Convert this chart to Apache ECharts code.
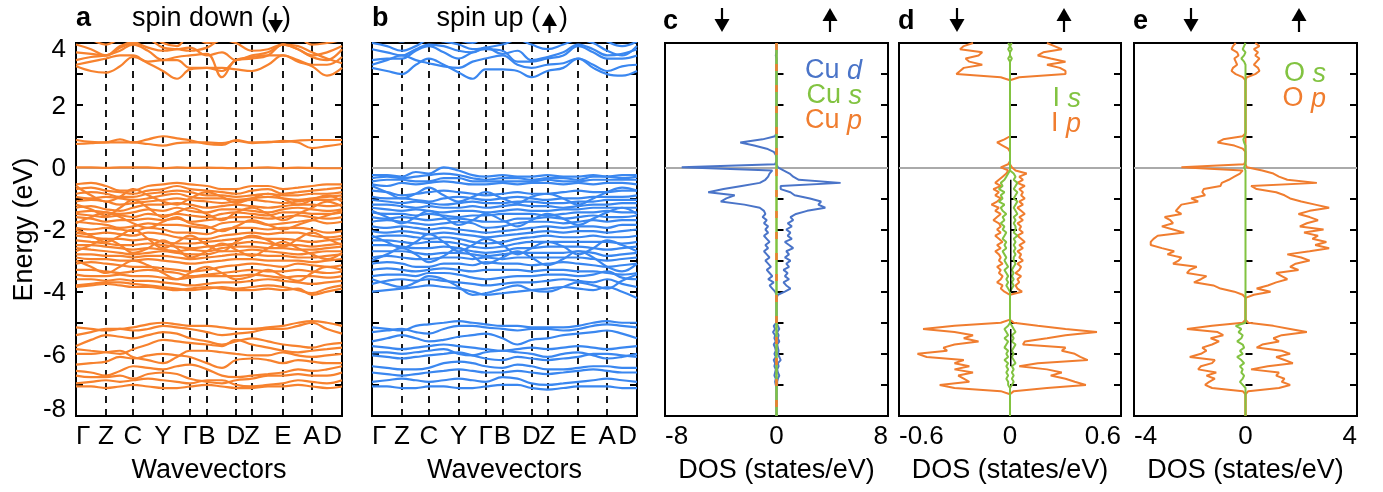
<!DOCTYPE html>
<html><head><meta charset="utf-8">
<script src="https://cdn.jsdelivr.net/npm/echarts@6/dist/echarts.min.js"></script>
<style>html,body{margin:0;padding:0;background:#fff}#c{width:1383px;height:492px}</style>
</head><body><div id="c"></div>
<script>
// ---------- k-path (band structure) ----------
const kx = [0,15,30,44,57,72,87,101,114,131,146,160,176,192,207,222,236,251,266];
const kNodes = [0,30,57,87,114,131,160,176,207,236,266];
const kLabels = ['Γ','Z','C','Y','Γ','B','D','Z','E','A','D'];
const energyLabels = [-8,-6,-4,-2,0,2,4];
const cTicks = [-8,0,8];
const dTicks = [-0.6,0,0.6];
const eTicks = [-4,0,4];

// spin-down bands (panel a)
const bandsDown = [
[3.25,3.1,3.05,3.25,3.55,3.35,3.1,2.85,3.15,3.2,3.2,3.15,3.1,3.3,3.6,3.4,3.25,2.95,3.2],
[3.3,3.4,3.5,3.6,3.6,3.4,3.45,3.45,3.2,3.2,3.1,3.45,3.55,3.6,3.6,3.45,3.3,3.3,3.55],
[3.45,3.55,3.6,3.75,3.95,3.75,3.45,3.55,3.6,3.65,2.9,3.45,3.5,3.6,3.95,3.8,3.55,3.45,3.8],
[3.7,3.65,3.6,3.9,4.0,3.85,3.75,3.8,3.85,3.6,3.7,3.45,3.6,3.7,3.95,3.8,3.6,3.7,3.9],
[3.95,3.8,3.6,3.85,4.0,4.1,3.85,3.8,3.75,3.85,4.1,4.0,3.75,3.8,3.95,3.9,3.7,3.5,3.35],
[4.2,4.1,3.95,4.1,4.0,4.3,4.0,3.9,4.3,4.0,4.1,4.3,4.2,4.1,4.3,4.2,3.95,4.0,4.1],
[0.88,0.82,0.8,0.9,0.8,0.9,1.0,0.93,0.87,0.75,0.72,0.88,0.8,0.8,0.85,0.8,0.62,0.68,0.75],
[0.75,0.78,0.8,0.8,0.8,0.75,0.7,0.78,0.8,0.8,0.78,0.85,0.78,0.82,0.82,0.86,0.88,0.88,0.88],
[0.0,0.0,-0.02,0.0,0.0,0.0,-0.03,0.0,-0.02,-0.01,-0.02,-0.03,-0.02,0.0,-0.03,-0.01,-0.02,-0.03,-0.03],
[-0.55,-0.5,-0.6,-0.75,-0.75,-0.6,-0.55,-0.5,-0.55,-0.6,-0.7,-0.7,-0.6,-0.6,-0.7,-0.65,-0.6,-0.55,-0.55],
[-0.7,-0.65,-0.75,-0.8,-0.85,-0.75,-0.7,-0.6,-0.7,-0.75,-0.8,-0.85,-0.75,-0.7,-0.85,-0.8,-0.75,-0.7,-0.65],
[-0.85,-0.8,-0.85,-0.95,-0.95,-0.85,-0.8,-0.75,-0.8,-0.9,-0.9,-0.95,-0.9,-0.85,-0.9,-0.9,-0.85,-0.85,-0.8],
[-0.95,-1.0,-0.95,-1.0,-1.05,-1.0,-0.9,-0.85,-0.95,-1.0,-1.0,-1.05,-1.0,-0.95,-1.0,-1.05,-1.0,-0.95,-0.9],
[-1.1,-1.05,-1.1,-1.2,-1.15,-1.1,-1.05,-1.0,-1.05,-1.1,-1.15,-1.1,-1.05,-1.1,-1.15,-1.1,-1.05,-1.05,-1.0],
[-1.3,-1.25,-1.35,-1.4,-1.3,-1.2,-1.2,-1.15,-1.2,-1.3,-1.25,-1.2,-1.25,-1.3,-1.25,-1.2,-1.2,-1.25,-1.2],
[-1.45,-1.4,-1.45,-1.5,-1.45,-1.35,-1.4,-1.3,-1.4,-1.45,-1.35,-1.35,-1.4,-1.45,-1.35,-1.3,-1.35,-1.4,-1.35],
[-1.5,-1.55,-1.6,-1.55,-1.6,-1.5,-1.55,-1.5,-1.55,-1.6,-1.5,-1.45,-1.5,-1.55,-1.45,-1.45,-1.5,-1.5,-1.45],
[-1.6,-1.65,-1.75,-1.7,-1.7,-1.65,-1.7,-1.65,-1.75,-1.7,-1.65,-1.6,-1.6,-1.65,-1.6,-1.55,-1.6,-1.65,-1.6],
[-1.75,-1.8,-1.85,-1.95,-1.9,-1.8,-1.85,-1.85,-1.9,-1.95,-1.8,-1.75,-1.75,-1.85,-1.8,-1.75,-1.7,-1.8,-1.75],
[-1.95,-2.0,-1.95,-2.0,-2.05,-1.95,-2.0,-2.1,-2.1,-2.15,-2.0,-1.95,-1.95,-2.0,-1.95,-1.95,-2.0,-2.1,-2.05],
[-2.1,-2.15,-2.1,-2.15,-2.2,-2.1,-2.15,-2.25,-2.3,-2.3,-2.2,-2.15,-2.1,-2.15,-2.1,-2.1,-2.2,-2.25,-2.2],
[-2.2,-2.25,-2.3,-2.3,-2.35,-2.3,-2.4,-2.45,-2.45,-2.4,-2.35,-2.3,-2.25,-2.3,-2.3,-2.35,-2.4,-2.35,-2.3],
[-2.35,-2.4,-2.45,-2.5,-2.5,-2.45,-2.5,-2.55,-2.6,-2.55,-2.5,-2.45,-2.4,-2.45,-2.5,-2.5,-2.55,-2.5,-2.45],
[-2.5,-2.5,-2.55,-2.6,-2.65,-2.6,-2.65,-2.7,-2.65,-2.7,-2.6,-2.55,-2.55,-2.6,-2.6,-2.65,-2.65,-2.6,-2.55],
[-2.6,-2.65,-2.7,-2.75,-2.8,-2.75,-2.7,-2.75,-2.8,-2.8,-2.7,-2.7,-2.65,-2.7,-2.75,-2.8,-2.75,-2.7,-2.7],
[-2.8,-2.8,-2.85,-2.85,-2.9,-2.85,-2.85,-2.9,-2.95,-2.9,-2.85,-2.8,-2.8,-2.85,-2.85,-2.9,-2.9,-2.85,-2.8],
[-2.9,-2.95,-2.95,-3.0,-3.0,-2.95,-3.0,-3.05,-3.1,-3.05,-3.0,-2.95,-2.95,-3.0,-3.0,-3.0,-3.05,-3.0,-2.95],
[-3.1,-3.05,-3.1,-3.15,-3.2,-3.2,-3.25,-3.3,-3.35,-3.3,-3.2,-3.15,-3.1,-3.15,-3.2,-3.1,-3.15,-3.2,-3.15],
[-3.3,-3.3,-3.35,-3.4,-3.35,-3.3,-3.35,-3.4,-3.5,-3.45,-3.4,-3.35,-3.3,-3.35,-3.35,-3.3,-3.35,-3.4,-3.35],
[-3.45,-3.5,-3.5,-3.45,-3.5,-3.5,-3.55,-3.6,-3.55,-3.5,-3.5,-3.5,-3.45,-3.5,-3.55,-3.5,-3.5,-3.55,-3.5],
[-3.6,-3.6,-3.65,-3.6,-3.65,-3.65,-3.7,-3.75,-3.8,-3.75,-3.7,-3.7,-3.65,-3.6,-3.65,-3.7,-3.75,-3.7,-3.65],
[-3.8,-3.75,-3.7,-3.7,-3.75,-3.8,-3.85,-3.9,-3.95,-3.9,-3.85,-3.9,-3.85,-3.8,-3.85,-3.95,-4.05,-3.9,-3.8],
[-1.2,-1.35,-1.55,-1.3,-1.05,-1.3,-1.6,-1.45,-1.3,-1.5,-1.7,-1.45,-1.3,-1.5,-1.7,-1.5,-1.3,-1.1,-1.25],
[-2.0,-2.2,-2.4,-2.2,-2.0,-2.3,-2.6,-2.4,-2.2,-2.5,-2.7,-2.4,-2.2,-2.35,-2.55,-2.3,-2.1,-2.3,-2.5],
[-2.7,-2.5,-2.3,-2.5,-2.75,-2.6,-2.35,-2.6,-2.9,-2.7,-2.45,-2.65,-2.85,-2.6,-2.4,-2.6,-2.8,-2.95,-2.75],
[-0.6,-0.9,-1.1,-0.95,-0.7,-0.9,-1.1,-1.2,-1.0,-0.8,-0.95,-1.15,-1.0,-0.85,-1.0,-1.2,-1.05,-0.9,-1.1],
[-3.0,-3.2,-3.4,-3.2,-3.0,-3.15,-3.4,-3.6,-3.4,-3.2,-3.4,-3.6,-3.5,-3.3,-3.5,-3.65,-3.4,-3.2,-3.3],
[-3.85,-3.8,-3.75,-3.8,-3.85,-3.85,-3.9,-3.95,-3.9,-3.85,-3.9,-3.95,-3.95,-3.9,-3.95,-3.9,-4.1,-4.0,-3.9],
[-1.8,-1.6,-1.45,-1.6,-1.8,-1.95,-1.75,-1.6,-1.8,-1.9,-2.05,-1.9,-1.7,-1.85,-2.0,-1.85,-1.7,-1.55,-1.4],
[-5.15,-5.2,-5.25,-5.2,-5.15,-5.05,-5.0,-5.05,-5.1,-5.1,-5.15,-5.2,-5.2,-5.15,-5.1,-5.0,-4.95,-5.0,-5.1],
[-5.4,-5.3,-5.2,-5.2,-5.25,-5.2,-5.1,-5.15,-5.2,-5.3,-5.4,-5.35,-5.3,-5.2,-5.2,-5.1,-5.0,-5.2,-5.35],
[-5.75,-5.55,-5.4,-5.45,-5.5,-5.4,-5.3,-5.35,-5.5,-5.6,-5.7,-5.6,-5.5,-5.6,-5.7,-5.75,-5.8,-5.7,-5.65],
[-5.85,-5.9,-5.95,-6.0,-5.85,-5.7,-5.55,-5.6,-5.65,-5.7,-5.75,-5.55,-5.7,-5.8,-5.9,-5.95,-5.9,-5.85,-5.8],
[-6.0,-6.0,-5.95,-5.9,-6.1,-6.2,-6.3,-6.1,-5.9,-5.9,-5.95,-6.0,-6.05,-6.05,-5.95,-6.05,-6.1,-6.05,-6.0],
[-6.35,-6.3,-6.25,-6.1,-6.15,-6.05,-6.0,-6.05,-6.1,-6.3,-6.45,-6.2,-6.15,-6.2,-6.3,-6.2,-6.25,-6.3,-6.3],
[-6.55,-6.6,-6.7,-6.55,-6.4,-6.45,-6.5,-6.4,-6.35,-6.5,-6.7,-6.75,-6.7,-6.65,-6.6,-6.5,-6.55,-6.5,-6.4],
[-6.7,-6.75,-6.75,-6.7,-6.8,-6.65,-6.6,-6.65,-6.8,-6.9,-6.95,-6.85,-6.8,-6.7,-6.7,-6.65,-6.7,-6.7,-6.6],
[-6.95,-6.9,-6.85,-6.9,-6.85,-6.8,-6.85,-6.9,-6.95,-6.85,-6.85,-7.0,-7.05,-7.0,-6.95,-6.85,-6.9,-6.95,-6.85],
[-7.05,-7.05,-7.1,-7.05,-7.0,-7.05,-7.1,-7.1,-7.05,-7.0,-7.05,-7.1,-7.1,-7.05,-7.05,-7.0,-7.05,-7.1,-7.05]
];

// spin-up bands (panel b)
const bandsUp = [
[3.2,3.1,3.0,3.3,3.5,3.3,3.05,2.85,3.15,3.15,3.1,2.9,3.1,3.2,3.5,3.2,3.0,2.95,3.1],
[3.3,3.45,3.6,3.45,3.35,3.25,3.2,3.4,3.5,3.6,3.3,3.2,3.3,3.35,3.5,3.3,3.1,3.25,3.3],
[3.45,3.5,3.5,3.75,3.9,3.7,3.5,3.7,3.8,3.75,3.4,3.4,3.5,3.6,3.9,3.7,3.5,3.5,3.6],
[3.8,3.7,3.6,3.8,3.95,3.9,3.75,3.7,3.85,3.65,3.75,3.45,3.55,3.7,3.95,3.8,3.6,3.65,3.8],
[4.0,3.9,3.75,3.9,4.1,4.05,3.95,3.8,3.85,3.95,4.1,3.95,3.8,3.95,4.1,4.0,3.75,3.6,3.9],
[4.3,4.2,4.05,4.2,4.1,4.3,4.1,4.0,4.2,4.05,4.2,4.3,4.2,4.15,4.2,4.3,4.05,3.9,4.05],
[-0.25,-0.25,-0.3,-0.15,-0.2,0.0,-0.1,-0.25,-0.3,-0.25,-0.3,-0.3,-0.25,-0.3,-0.3,-0.25,-0.3,-0.25,-0.25],
[-0.35,-0.3,-0.35,-0.3,-0.25,-0.2,-0.25,-0.35,-0.4,-0.35,-0.35,-0.4,-0.35,-0.35,-0.4,-0.3,-0.3,-0.35,-0.3],
[-0.45,-0.4,-0.4,-0.45,-0.45,-0.35,-0.35,-0.45,-0.45,-0.45,-0.45,-0.45,-0.4,-0.45,-0.45,-0.4,-0.4,-0.4,-0.4],
[-0.55,-0.6,-0.5,-0.55,-0.5,-0.45,-0.5,-0.55,-0.55,-0.5,-0.55,-0.5,-0.5,-0.55,-0.5,-0.55,-0.5,-0.5,-0.55],
[-0.75,-0.8,-0.9,-0.85,-0.8,-0.75,-0.8,-0.85,-0.9,-0.85,-0.8,-0.85,-0.85,-0.8,-0.75,-0.8,-0.8,-0.75,-0.75],
[-0.95,-1.0,-1.0,-1.05,-1.1,-1.0,-0.95,-1.0,-1.05,-1.0,-0.95,-1.0,-1.05,-1.0,-1.0,-0.95,-0.95,-0.95,-0.9],
[-1.05,-1.1,-1.15,-1.1,-1.15,-1.2,-1.15,-1.1,-1.15,-1.15,-1.1,-1.1,-1.15,-1.15,-1.1,-1.1,-1.05,-1.05,-1.05],
[-1.2,-1.2,-1.25,-1.3,-1.25,-1.3,-1.3,-1.25,-1.3,-1.25,-1.2,-1.25,-1.25,-1.3,-1.25,-1.2,-1.2,-1.15,-1.15],
[-1.3,-1.35,-1.4,-1.35,-1.4,-1.45,-1.4,-1.4,-1.45,-1.4,-1.35,-1.4,-1.4,-1.35,-1.35,-1.3,-1.3,-1.3,-1.3],
[-1.45,-1.5,-1.5,-1.55,-1.5,-1.55,-1.6,-1.55,-1.55,-1.5,-1.5,-1.5,-1.55,-1.5,-1.45,-1.45,-1.4,-1.45,-1.45],
[-1.6,-1.65,-1.6,-1.65,-1.7,-1.65,-1.65,-1.7,-1.75,-1.75,-1.65,-1.65,-1.6,-1.65,-1.6,-1.55,-1.6,-1.6,-1.55],
[-1.75,-1.7,-1.75,-1.8,-1.85,-1.8,-1.75,-1.8,-1.95,-1.9,-1.8,-1.75,-1.75,-1.8,-1.75,-1.7,-1.75,-1.7,-1.7],
[-1.9,-1.95,-1.9,-1.95,-2.0,-1.95,-2.0,-2.05,-2.1,-2.05,-2.0,-1.95,-1.9,-1.95,-1.9,-1.9,-1.95,-1.85,-1.85],
[-2.05,-2.1,-2.05,-2.1,-2.15,-2.1,-2.15,-2.2,-2.25,-2.2,-2.15,-2.1,-2.05,-2.1,-2.05,-2.05,-2.1,-2.05,-2.0],
[-2.25,-2.2,-2.2,-2.25,-2.3,-2.25,-2.3,-2.4,-2.45,-2.4,-2.3,-2.25,-2.2,-2.25,-2.25,-2.2,-2.25,-2.25,-2.2],
[-2.35,-2.35,-2.4,-2.45,-2.4,-2.4,-2.45,-2.55,-2.6,-2.55,-2.45,-2.4,-2.4,-2.4,-2.4,-2.4,-2.4,-2.45,-2.4],
[-2.5,-2.5,-2.55,-2.6,-2.6,-2.55,-2.6,-2.7,-2.75,-2.7,-2.6,-2.6,-2.55,-2.55,-2.55,-2.6,-2.65,-2.6,-2.55],
[-2.7,-2.7,-2.7,-2.75,-2.8,-2.75,-2.75,-2.8,-2.85,-2.8,-2.75,-2.75,-2.75,-2.75,-2.7,-2.75,-2.85,-2.8,-2.75],
[-2.9,-2.85,-2.9,-2.95,-2.95,-2.9,-2.9,-2.95,-2.9,-2.95,-2.9,-2.9,-2.9,-2.9,-2.9,-2.95,-3.0,-2.95,-2.9],
[-3.1,-3.05,-3.1,-3.2,-3.2,-3.1,-3.1,-3.15,-3.05,-3.1,-3.1,-3.15,-3.1,-3.05,-3.1,-3.15,-3.2,-3.15,-3.1],
[-3.3,-3.25,-3.3,-3.35,-3.3,-3.25,-3.3,-3.35,-3.3,-3.3,-3.3,-3.35,-3.3,-3.3,-3.35,-3.35,-3.4,-3.45,-3.4],
[-3.5,-3.45,-3.45,-3.5,-3.4,-3.4,-3.45,-3.55,-3.6,-3.55,-3.5,-3.5,-3.45,-3.45,-3.5,-3.45,-3.35,-3.55,-3.6],
[-3.75,-3.65,-3.6,-3.65,-3.6,-3.65,-3.7,-3.75,-3.8,-3.75,-3.7,-3.7,-3.65,-3.6,-3.65,-3.7,-3.6,-3.75,-3.85],
[-4.0,-3.95,-3.9,-3.85,-3.8,-3.85,-3.9,-4.0,-4.1,-4.05,-4.0,-3.95,-3.9,-3.85,-3.9,-3.95,-3.85,-4.0,-4.2],
[-0.6,-0.8,-1.0,-0.85,-0.65,-0.9,-1.1,-0.95,-0.8,-1.0,-1.15,-0.95,-0.85,-1.0,-1.2,-1.0,-0.8,-0.65,-0.75],
[-1.4,-1.6,-1.8,-1.6,-1.4,-1.6,-1.85,-1.7,-1.5,-1.7,-1.9,-1.7,-1.5,-1.65,-1.85,-1.65,-1.45,-1.3,-1.5],
[-2.2,-2.4,-2.6,-2.4,-2.15,-2.4,-2.7,-2.5,-2.3,-2.5,-2.8,-2.6,-2.4,-2.55,-2.8,-2.6,-2.35,-2.5,-2.7],
[-3.0,-2.8,-2.6,-2.8,-3.05,-2.85,-2.6,-2.85,-3.1,-2.9,-2.7,-2.9,-3.15,-2.95,-2.7,-2.9,-3.2,-3.35,-3.1],
[-3.6,-3.75,-3.85,-3.7,-3.5,-3.6,-3.85,-4.1,-4.05,-3.9,-3.8,-3.95,-4.0,-3.85,-3.7,-3.8,-3.9,-3.65,-3.45],
[-5.15,-5.2,-5.25,-5.1,-5.05,-5.0,-4.95,-5.0,-5.05,-5.1,-5.1,-5.15,-5.15,-5.15,-5.1,-5.0,-4.95,-5.0,-5.0],
[-5.3,-5.25,-5.2,-5.3,-5.35,-5.2,-5.1,-5.1,-5.15,-5.2,-5.25,-5.2,-5.2,-5.25,-5.2,-5.1,-5.05,-5.1,-5.15],
[-5.6,-5.5,-5.4,-5.5,-5.6,-5.55,-5.45,-5.4,-5.35,-5.5,-5.7,-5.55,-5.5,-5.4,-5.35,-5.3,-5.25,-5.35,-5.5],
[-5.75,-5.8,-5.85,-5.8,-5.75,-5.7,-5.75,-5.8,-5.85,-5.9,-5.85,-5.8,-5.85,-5.8,-5.75,-5.8,-5.85,-5.8,-5.75],
[-5.95,-5.95,-6.0,-5.95,-5.9,-5.85,-6.0,-6.05,-5.95,-5.9,-5.95,-6.0,-6.1,-6.0,-5.95,-6.05,-6.15,-6.1,-6.0],
[-6.05,-6.1,-6.15,-6.1,-6.05,-6.0,-5.95,-6.05,-6.15,-6.2,-6.1,-6.15,-6.2,-6.15,-6.1,-6.0,-6.0,-6.05,-6.1],
[-6.4,-6.45,-6.5,-6.5,-6.45,-6.3,-6.25,-6.3,-6.4,-6.45,-6.35,-6.4,-6.5,-6.5,-6.45,-6.4,-6.4,-6.45,-6.45],
[-6.6,-6.65,-6.7,-6.65,-6.6,-6.55,-6.5,-6.55,-6.6,-6.6,-6.55,-6.6,-6.65,-6.6,-6.55,-6.5,-6.55,-6.6,-6.6],
[-6.9,-6.85,-6.8,-6.85,-6.9,-6.85,-6.8,-6.85,-6.9,-6.75,-6.8,-6.95,-7.0,-6.95,-6.9,-6.85,-6.8,-6.85,-6.9],
[-7.05,-7.05,-7.1,-7.1,-7.05,-7.05,-7.1,-7.1,-7.05,-7.0,-7.0,-7.1,-7.15,-7.1,-7.05,-7.05,-7.05,-7.1,-7.1]
];

// ---------- DOS energy grid (eV) ----------
const dosE = [
4.0,3.9,3.8,3.7,3.6,3.5,3.4,3.3,3.2,3.1,
3.0,2.9,2.8,2.7,2.6,2.5,2.4,2.3,2.2,2.1,
2.0,1.9,1.8,1.7,1.6,1.5,1.4,1.3,1.2,1.1,
1.0,0.9,0.8,0.7,0.6,0.5,0.4,0.3,0.2,0.1,
0.0,-0.1,-0.2,-0.3,-0.4,-0.5,-0.6,-0.7,-0.8,-0.9,
-1.0,-1.1,-1.2,-1.3,-1.4,-1.5,-1.6,-1.7,-1.8,-1.9,
-2.0,-2.1,-2.2,-2.3,-2.4,-2.5,-2.6,-2.7,-2.8,-2.9,
-3.0,-3.1,-3.2,-3.3,-3.4,-3.5,-3.6,-3.7,-3.8,-3.9,
-4.0,-4.1,-4.2,-4.3,-4.4,-4.5,-4.6,-4.7,-4.8,-4.9,
-5.0,-5.1,-5.2,-5.3,-5.4,-5.5,-5.6,-5.7,-5.8,-5.9,
-6.0,-6.1,-6.2,-6.3,-6.4,-6.5,-6.6,-6.7,-6.8,-6.9,
-7.0,-7.1,-7.2,-7.3,-7.4,-7.5,-7.6,-7.7,-7.8,-7.9,
-8.0];
const edgeE = [4.0,-8.0];

// panel c: Cu
const cuDdown = [
0,0,0,0,-0.05,0,0,0,0,0,
0,0,0,0,0,0,0,0,0,0,
0,0,0,0,0,0,0,0,0,0,
-0.1,-1.0,-2.6,-1.6,-0.7,-0.2,-0.05,0,0,-0.1,
-6.8,-0.3,-0.5,-0.6,-0.8,-1.2,-2.5,-3.8,-4.9,-3.0,
-3.6,-4.0,-2.3,-1.2,-0.9,-0.8,-1.0,-0.7,-0.9,-0.6,
-0.8,-0.6,-0.9,-0.7,-0.5,-0.8,-0.6,-0.9,-0.7,-0.5,
-0.8,-0.6,-0.4,-0.7,-0.5,-0.3,-0.6,-0.2,-0.5,-0.3,
-0.1,0,0,0,0,0,0,0,0,0,
0,-0.2,-0.1,-0.25,-0.1,-0.15,-0.05,-0.2,-0.1,-0.05,
-0.15,-0.05,-0.2,-0.1,-0.15,-0.05,-0.1,-0.15,-0.05,-0.1,
-0.05,0,0,0,0,0,0,0,0,0,
0];
const cuDup = [
0,0,0,0,0,0,0,0,0,0,
0,0,0,0,0,0,0,0,0,0,
0,0,0,0,0,0,0,0,0,0,
0,0,0,0,0,0,0,0,0,0,
0.1,0.5,0.94,1.2,1.6,4.6,0.3,0.3,1.0,1.3,
2.4,3.2,3.0,3.5,2.2,1.4,1.0,1.2,0.8,1.1,
0.7,1.0,0.8,1.1,0.6,0.9,1.2,0.7,0.9,0.6,
1.0,0.7,0.9,0.5,0.8,0.6,0.9,0.5,0.7,1.0,
0.6,0.1,0,0,0,0,0,0,0,0,
0,0.1,0.2,0.05,0.15,0.1,0.2,0.05,0.1,0.15,
0.1,0.2,0.3,0.1,0.15,0.05,0.1,0.2,0.1,0.05,
0.05,0,0,0,0,0,0,0,0,0,
0];
const cuS = [0,0];
const cuP = [0,0];

// panel d: I
const ipDown = [
-0.2,-0.25,-0.27,-0.15,-0.17,-0.24,-0.22,-0.15,-0.25,-0.27,
-0.29,-0.05,0,0,0,0,0,0,0,0,
0,0,0,0,0,0,0,0,0,0,
0,-0.03,-0.07,-0.04,-0.01,0,0,0,0,-0.01,
-0.05,-0.01,-0.02,-0.04,-0.06,-0.08,-0.05,-0.09,-0.06,-0.08,
-0.05,-0.07,-0.1,-0.06,-0.08,-0.05,-0.07,-0.09,-0.06,-0.05,
-0.07,-0.05,-0.08,-0.06,-0.04,-0.07,-0.05,-0.08,-0.06,-0.05,
-0.06,-0.04,-0.07,-0.05,-0.06,-0.04,-0.05,-0.07,-0.04,-0.05,
-0.03,0,0,0,0,0,0,0,0,0,
-0.05,-0.3,-0.47,-0.3,-0.2,-0.25,-0.17,-0.3,-0.36,-0.34,
-0.5,-0.45,-0.25,-0.3,-0.22,-0.3,-0.2,-0.28,-0.25,-0.22,
-0.38,-0.3,-0.05,0,0,0,0,0,0,0,
0];
const ipUp = [
0.2,0.24,0.28,0.18,0.15,0.22,0.3,0.2,0.27,0.3,
0.3,0.05,0,0,0,0,0,0,0,0,
0,0,0,0,0,0,0,0,0,0,
0,0,0,0,0,0,0,0,0,0,
0.01,0.03,0.09,0.05,0.07,0.04,0.08,0.05,0.07,0.06,
0.08,0.05,0.07,0.04,0.06,0.08,0.05,0.07,0.04,0.06,
0.05,0.07,0.04,0.06,0.08,0.05,0.07,0.04,0.06,0.05,
0.07,0.04,0.06,0.05,0.03,0.06,0.04,0.05,0.03,0.04,
0.065,0,0,0,0,0,0,0,0,0,
0.02,0.15,0.3,0.47,0.3,0.2,0.08,0.07,0.3,0.28,
0.35,0.38,0.42,0.15,0.05,0.2,0.28,0.22,0.3,0.35,
0.41,0.2,0.02,0,0,0,0,0,0,0,
0];
const isDown = [
-0.01,0,-0.01,0,0,-0.01,0,0,0,0,
0,0,0,0,0,0,0,0,0,0,
0,0,0,0,0,0,0,0,0,0,
0,0,0,0,0,0,0,0,0,0,
0,0,-0.01,-0.02,-0.03,-0.05,-0.04,-0.06,-0.03,-0.05,
-0.04,-0.06,-0.03,-0.05,-0.04,-0.02,-0.04,-0.03,-0.05,-0.03,
-0.04,-0.02,-0.03,-0.04,-0.02,-0.03,-0.02,-0.04,-0.03,-0.02,
-0.03,-0.02,-0.01,-0.03,-0.02,-0.01,-0.02,-0.01,-0.02,-0.01,
0,0,0,0,0,0,0,0,0,0,
0,-0.01,-0.03,-0.02,-0.01,-0.03,-0.01,-0.02,-0.03,-0.01,
-0.02,-0.01,-0.03,-0.01,-0.02,-0.01,-0.02,-0.01,-0.02,-0.01,
-0.01,0,0,0,0,0,0,0,0,0,
0];
const isUp = [
0.01,0,0.01,0,0,0.01,0,0,0,0,
0,0,0,0,0,0,0,0,0,0,
0,0,0,0,0,0,0,0,0,0,
0,0,0,0,0,0,0,0,0,0,
0,0,0.02,0.03,0.02,0.04,0.03,0.02,0.04,0.03,
0.02,0.04,0.03,0.02,0.03,0.04,0.02,0.03,0.02,0.03,
0.03,0.02,0.04,0.02,0.03,0.02,0.03,0.02,0.03,0.02,
0.02,0.03,0.02,0.01,0.02,0.01,0.02,0.01,0.02,0.01,
0,0,0,0,0,0,0,0,0,0,
0,0.01,0.02,0.03,0.01,0.02,0.01,0.03,0.02,0.01,
0.02,0.01,0.02,0.03,0.01,0.02,0.01,0.02,0.01,0.02,
0.01,0,0,0,0,0,0,0,0,0,
0];
const iRest = [
null,null,null,null,null,null,null,null,null,null,
null,null,null,null,null,null,null,null,null,null,
null,null,null,null,null,null,null,null,null,null,
null,null,null,null,null,null,null,null,null,null,
null,null,null,null,0.004,0.004,0.004,0.004,0.004,0.004,
0.004,0.004,0.004,0.004,0.004,0.004,0.004,0.004,0.004,0.004,
0.004,0.004,0.004,0.004,0.004,0.004,0.004,0.004,0.004,0.004,
0.004,0.004,0.004,0.004,0.004,0.004,0.004,0.004,0.004,0.004,
0.004,null,null,null,null,null,null,null,null,null,
null,null,0.004,0.004,0.004,0.004,0.004,0.004,0.004,0.004,
0.004,0.004,0.004,0.004,0.004,null,null,null,null,null,
null,null,null,null,null,null,null,null,null,null,
null];

// panel e: O
const opDown = [
-0.35,-0.45,-0.5,-0.3,-0.25,-0.4,-0.35,-0.3,-0.45,-0.5,
-0.35,-0.1,0,0,0,0,0,0,0,0,
0,0,0,0,0,0,0,0,0,0,
-0.1,-0.8,-1.0,-0.4,-0.1,0,0,0,0,-0.05,
-2.3,-0.1,-0.2,-0.4,-0.6,-0.85,-0.9,-1.5,-1.55,-1.45,
-1.95,-1.7,-2.3,-2.4,-2.5,-2.3,-2.9,-2.7,-2.6,-3.0,
-2.6,-2.2,-3.15,-3.3,-3.4,-3.4,-3.0,-2.56,-2.8,-2.3,
-2.4,-2.6,-1.75,-2.0,-2.1,-1.4,-1.6,-1.85,-1.15,-0.9,
-0.4,-0.1,0,0,0,0,0,0,0,0,
-0.1,-1.2,-2.1,-1.0,-0.8,-1.25,-0.95,-1.2,-1.55,-1.4,
-1.6,-2.0,-1.1,-1.2,-1.6,-1.7,-1.05,-1.4,-1.1,-1.3,
-1.45,-1.2,-0.1,0,0,0,0,0,0,0,
0];
const opUp = [
0.35,0.5,0.3,0.45,0.35,0.5,0.4,0.3,0.45,0.5,
0.35,0.05,0,0,0,0,0,0,0,0,
0,0,0,0,0,0,0,0,0,0,
0,0,0,0,0,0,0,0,0,0,
0.05,0.6,1.0,1.2,1.5,2.56,0.2,0.4,1.1,1.4,
1.6,2.0,2.5,3.0,2.3,1.9,2.3,2.6,2.2,1.95,
2.8,2.1,2.6,2.4,2.9,2.5,3.0,2.3,1.5,2.0,
2.3,1.8,1.6,1.9,1.1,1.3,1.5,1.1,0.8,0.4,
0.9,0.3,0,0,0,0,0,0,0,0,
0.1,1.0,1.6,2.2,1.3,1.0,1.2,0.6,0.4,1.3,
1.6,1.1,1.4,1.7,0.8,0.2,1.2,1.1,1.4,1.3,
1.6,1.2,0.1,0,0,0,0,0,0,0,
0];
const osVals = [
0,-0.05,-0.1,0,-0.05,-0.15,-0.05,0,0,0,
0,0,0,0,0,0,0,0,0,0,
0,0,0,0,0,0,0,0,0,0,
-0.02,-0.08,-0.05,0,0,0,0,0,0,0,
-0.05,0,0,0,0,0,0,0,0,0,
0,0,0,0,0,0,0,0,0,0,
0,0,0,0,0,0,0,0,0,0,
0,0,0,0,0,0,0,0,0,0,
0,0,0,0,0,0,0,0,0,0,
0,-0.35,-0.15,-0.25,-0.1,-0.15,-0.3,-0.1,-0.05,-0.2,
-0.1,-0.3,-0.15,-0.05,-0.2,-0.1,-0.15,-0.05,-0.1,-0.2,
-0.1,0,0,0,0,0,0,0,0,0,
0];

// ---------- styling ----------
const FONT = '"Liberation Sans", Arial, Helvetica, sans-serif';
const ORANGE_BAND = '#F7822E', BLUE_BAND = '#3A87F0';
const BLUE_D = '#4A74C8', GREEN = '#82C341', ORANGE = '#F07D2F';

const gridBoxes = [
  {left:76, top:43, width:266, height:373},
  {left:372, top:43, width:265, height:373},
  {left:665, top:43, width:223, height:373},
  {left:899, top:43, width:222, height:373},
  {left:1134, top:43, width:223, height:373}
];
const grid = gridBoxes.map(g => Object.assign({}, g, {show:true, borderColor:'#000', borderWidth:2, backgroundColor:'transparent', containLabel:false, outerBoundsMode:'none'}));

const lblBase = {color:'#000', fontSize:26, fontFamily:FONT, margin:8, hideOverlap:false, alignMinLabel:'left', alignMaxLabel:'right'};
const nameStyle = {color:'#000', fontSize:27, fontFamily:FONT};
function fmtTick(ticks){ return v => { for (const t of ticks) if (Math.abs(t - v) < 1e-9) return String(t); return ''; }; }

const xAxis = [
  {type:'value', gridIndex:0, min:0, max:266, axisLine:{show:false}, axisTick:{show:false}, splitLine:{show:false},
   axisLabel:Object.assign({}, lblBase, {customValues:kNodes, formatter:v => kLabels[kNodes.indexOf(v)] || ''}),
   name:'Wavevectors', nameLocation:'middle', nameGap:41, nameTextStyle:nameStyle},
  {type:'value', gridIndex:1, min:0, max:266, axisLine:{show:false}, axisTick:{show:false}, splitLine:{show:false},
   axisLabel:Object.assign({}, lblBase, {customValues:kNodes, formatter:v => kLabels[kNodes.indexOf(v)] || ''}),
   name:'Wavevectors', nameLocation:'middle', nameGap:41, nameTextStyle:nameStyle},
  {type:'value', gridIndex:2, min:-8, max:8, axisLine:{show:false}, axisTick:{show:false}, splitLine:{show:false},
   axisLabel:Object.assign({}, lblBase, {customValues:cTicks, formatter:fmtTick(cTicks)}),
   name:'DOS (states/eV)', nameLocation:'middle', nameGap:41, nameTextStyle:nameStyle},
  {type:'value', gridIndex:3, min:-0.6, max:0.6, axisLine:{show:false}, axisTick:{show:false}, splitLine:{show:false},
   axisLabel:Object.assign({}, lblBase, {customValues:dTicks, formatter:fmtTick(dTicks)}),
   name:'DOS (states/eV)', nameLocation:'middle', nameGap:41, nameTextStyle:nameStyle},
  {type:'value', gridIndex:4, min:-4, max:4, axisLine:{show:false}, axisTick:{show:false}, splitLine:{show:false},
   axisLabel:Object.assign({}, lblBase, {customValues:eTicks, formatter:fmtTick(eTicks)}),
   name:'DOS (states/eV)', nameLocation:'middle', nameGap:41, nameTextStyle:nameStyle}
];

const richLbl = {fontSize:26, fontFamily:FONT, color:'#000'};
function energyFmt(v) {
  if (!energyLabels.includes(v)) return '';
  if (v === energyLabels[energyLabels.length - 1]) return '{t|' + v + '}';
  if (v === energyLabels[0]) return '{b|' + v + '}';
  return '{m|' + v + '}';
}
const yAxis = [];
for (let side = 0; side < 2; side++) {
  for (let gi = 0; gi < 5; gi++) {
    const showLbl = side === 0 && gi === 0;
    yAxis.push({
      type:'value', gridIndex:gi, min:-8, max:4, interval:1, position: side === 0 ? 'left' : 'right',
      axisLine:{show:false}, splitLine:{show:false},
      axisTick:{show:true, inside:true, length:7, lineStyle:{color:'#000', width:2}},
      axisLabel:{show:showLbl, color:'#000', fontSize:26, fontFamily:FONT, margin:10, formatter:energyFmt,
        rich:{t:Object.assign({padding:[14,0,0,0]}, richLbl), b:Object.assign({padding:[0,0,12,0]}, richLbl), m:Object.assign({padding:[3,0,0,0]}, richLbl)}},
      name: showLbl ? 'Energy (eV)' : '', nameLocation:'middle', nameGap:38, nameTextStyle:nameStyle
    });
  }
}

const series = [];
for (let gi = 0; gi < 5; gi++) {
  const mlData = [{yAxis:0, lineStyle:{color:'#aaaaaa', width:2, type:'solid'}}];
  if (gi < 2) kNodes.slice(1, -1).forEach(k => mlData.push({xAxis:k, lineStyle:{color:'#000', width:1.8, type:[7,6]}}));
  series.push({type:'line', xAxisIndex:gi, yAxisIndex:gi, data:[], symbol:'none', silent:true, z:1,
    markLine:{silent:true, z:1, symbol:['none','none'], label:{show:false}, animation:false, data:mlData}});
}
function addBands(bands, color, gi) {
  bands.forEach(b => series.push({type:'line', xAxisIndex:gi, yAxisIndex:gi, z:3,
    data: b.map((e, i) => [kx[i], e]), smooth:0.4, symbol:'none', showSymbol:false, silent:true,
    lineStyle:{width:2.2, color}}));
}
addBands(bandsDown, ORANGE_BAND, 0);
addBands(bandsUp, BLUE_BAND, 1);

function addDos(vals, grid_E, color, gi, extra) {
  series.push(Object.assign({type:'line', xAxisIndex:gi, yAxisIndex:gi, z:3,
    data: vals.map((v, i) => [v === null ? '-' : v, grid_E[i]]), symbol:'none', showSymbol:false, silent:true,
    lineStyle:{width:2, color}}, extra || {}));
}
addDos(cuDdown, dosE, BLUE_D, 2);
addDos(cuDup, dosE, BLUE_D, 2);
addDos(cuS, edgeE, GREEN, 2, {lineStyle:{width:2.5, color:GREEN}});
addDos(cuP, edgeE, ORANGE, 2, {lineStyle:{width:2.5, color:ORANGE, type:[7,14]}});
addDos(ipDown, dosE, ORANGE, 3);
addDos(ipUp, dosE, ORANGE, 3);
addDos(isDown, dosE, GREEN, 3);
addDos(isUp, dosE, GREEN, 3);
addDos(iRest, dosE, '#000', 3, {lineStyle:{width:1.5, color:'#000'}});
addDos(opDown, dosE, ORANGE, 4);
addDos(opUp, dosE, ORANGE, 4);
addDos(osVals, dosE, GREEN, 4);

// ---------- annotations ----------
function txt(x, y, text, opts) {
  opts = opts || {};
  const st = {text, fill:'#000', font:(opts.weight || 'normal') + ' ' + (opts.size || 27) + 'px ' + FONT,
    align:opts.align || 'left', textAlign:opts.align || 'left', verticalAlign:'middle', textVerticalAlign:'middle'};
  return {type:'text', x, y, silent:true, style:st, z:100};
}
function legend(x, y, head, orb, color) {
  return {type:'text', x, y, silent:true, z:100, style:{
    text:'{n|' + head + ' }{i|' + orb + '}', align:'right', textAlign:'right', verticalAlign:'middle', textVerticalAlign:'middle',
    fill:color, font:'27px ' + FONT,
    rich:{n:{fill:color, color, fontSize:27, fontFamily:FONT}, i:{fill:color, color, fontSize:27, fontFamily:FONT, fontStyle:'italic'}}}};
}
function arrow(x, y0, y1, up) {
  const head = 13, hw = 7.5;
  if (up) return [
    {type:'polygon', silent:true, z:100, shape:{points:[[x, y0], [x - hw, y0 + head], [x + hw, y0 + head]]}, style:{fill:'#000'}},
    {type:'rect', silent:true, z:100, shape:{x:x - 1.1, y:y0 + head - 1, width:2.2, height:y1 - y0 - head + 1}, style:{fill:'#000'}}];
  return [
    {type:'polygon', silent:true, z:100, shape:{points:[[x - hw, y1 - head], [x + hw, y1 - head], [x, y1]]}, style:{fill:'#000'}},
    {type:'rect', silent:true, z:100, shape:{x:x - 1.1, y:y0, width:2.2, height:y1 - y0 - head + 1}, style:{fill:'#000'}}];
}
const graphic = [
  txt(76, 19, 'a', {weight:'bold'}),
  txt(270, 19, 'spin down (', {align:'right'}),
  txt(282, 19, ')'),
  txt(372, 19, 'b', {weight:'bold'}),
  txt(540, 19, 'spin up (', {align:'right'}),
  txt(559, 19, ')'),
  txt(663, 22, 'c', {weight:'bold'}),
  txt(898, 22, 'd', {weight:'bold'}),
  txt(1133, 22, 'e', {weight:'bold'}),
  legend(862, 71, 'Cu', 'd', BLUE_D),
  legend(862, 96, 'Cu', 's', GREEN),
  legend(862, 121, 'Cu', 'p', ORANGE),
  legend(1081, 99, 'I', 's', GREEN),
  legend(1081, 124, 'I', 'p', ORANGE),
  legend(1326, 74, 'O', 's', GREEN),
  legend(1326, 99, 'O', 'p', ORANGE)
].concat(
  arrow(275.5, 13, 33, false), arrow(549.5, 13, 33, true),
  arrow(722, 8, 32, false), arrow(830, 8, 32, true),
  arrow(957, 8, 32, false), arrow(1064, 8, 32, true),
  arrow(1191, 8, 32, false), arrow(1299, 8, 32, true)
);

const chart = echarts.init(document.getElementById('c'), null, {renderer:'canvas'});
chart.setOption({animation:false, backgroundColor:'#fff', grid, xAxis, yAxis, series, graphic});
</script></body></html>
